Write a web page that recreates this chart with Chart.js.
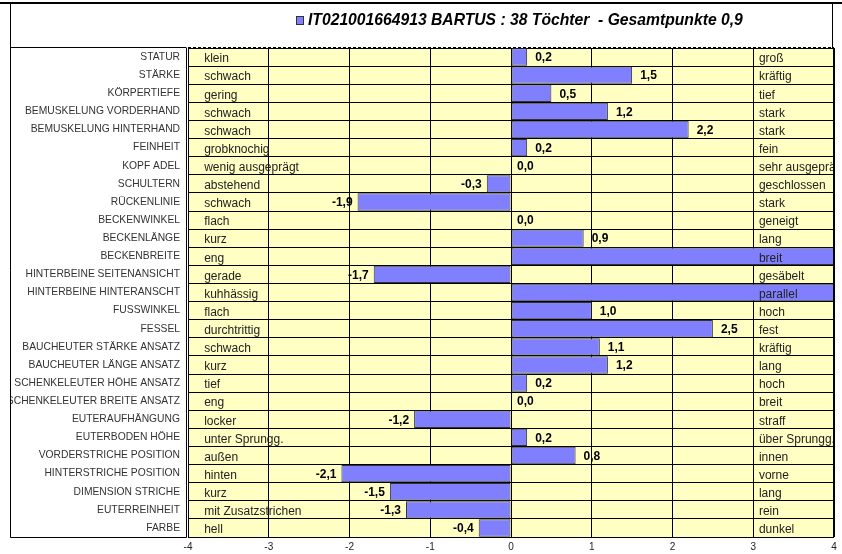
<!DOCTYPE html>
<html>
<head>
<meta charset="utf-8">
<script src="https://cdn.jsdelivr.net/npm/chart.js@4.4.1/dist/chart.umd.min.js"></script>
<style>
  html, body { margin: 0; padding: 0; background: #fff; }
  #wrap { width: 842px; height: 554px; }
</style>
</head>
<body>
<div id="wrap"><canvas id="chart" width="842" height="554"></canvas></div>
<script>
// traits (rows, top to bottom)
const traits = [
  "STATUR", "STÄRKE", "KÖRPERTIEFE", "BEMUSKELUNG VORDERHAND", "BEMUSKELUNG HINTERHAND",
  "FEINHEIT", "KOPF ADEL", "SCHULTERN", "RÜCKENLINIE", "BECKENWINKEL", "BECKENLÄNGE",
  "BECKENBREITE", "HINTERBEINE SEITENANSICHT", "HINTERBEINE HINTERANSCHT", "FUSSWINKEL",
  "FESSEL", "BAUCHEUTER STÄRKE ANSATZ", "BAUCHEUTER LÄNGE ANSATZ", "SCHENKELEUTER HÖHE ANSATZ",
  "SCHENKELEUTER BREITE ANSATZ", "EUTERAUFHÄNGUNG", "EUTERBODEN HÖHE", "VORDERSTRICHE POSITION",
  "HINTERSTRICHE POSITION", "DIMENSION STRICHE", "EUTERREINHEIT", "FARBE"
];

// low end / high end descriptions
const lowText = [
  "klein", "schwach", "gering", "schwach", "schwach", "grobknochig", "wenig ausgeprägt",
  "abstehend", "schwach", "flach", "kurz", "eng", "gerade", "kuhhässig", "flach",
  "durchtrittig", "schwach", "kurz", "tief", "eng", "locker", "unter Sprungg.", "außen",
  "hinten", "kurz", "mit Zusatzstrichen", "hell"
];
const highText = [
  "groß", "kräftig", "tief", "stark", "stark", "fein", "sehr ausgeprägt", "geschlossen",
  "stark", "geneigt", "lang", "breit", "gesäbelt", "parallel", "hoch", "fest", "kräftig",
  "lang", "hoch", "breit", "straff", "über Sprungg.", "innen", "vorne", "lang", "rein", "dunkel"
];

// breeding values; BECKENBREITE and HINTERBEINE HINTERANSCHT run past the axis end (clipped)
const values = [
  0.2, 1.5, 0.5, 1.2, 2.2, 0.2, 0.0, -0.3, -1.9, 0.0, 0.9,
  4.5, -1.7, 4.5, 1.0, 2.5, 1.1, 1.2, 0.2, 0.0, -1.2, 0.2, 0.8,
  -2.1, -1.5, -1.3, -0.4
];

const titleText = "IT021001664913 BARTUS : 38 Töchter  - Gesamtpunkte 0,9";
const xTicks = [-4, -3, -2, -1, 0, 1, 2, 3, 4];

const barColor = "#8080FF";
const FONT = "'Liberation Sans', Arial, sans-serif";

const decor = {
  id: "decor",
  beforeDraw(chart) {
    const { ctx, chartArea: a } = chart;
    ctx.save();
    ctx.fillStyle = "#fff";
    ctx.fillRect(0, 0, chart.width, chart.height);
    ctx.fillStyle = "#FFFFC4";
    ctx.fillRect(a.left, a.top, a.right - a.left, a.bottom - a.top);
    ctx.restore();
  },
  afterDatasetsDraw(chart) {
    const { ctx, chartArea: a } = chart;
    const xs = chart.scales.x, ys = chart.scales.y;
    ctx.save();
    ctx.beginPath();
    ctx.rect(a.left, a.top, a.right - a.left, a.bottom - a.top);
    ctx.clip();
    ctx.font = "12px " + FONT;
    ctx.fillStyle = "#222";
    ctx.textBaseline = "middle";
    traits.forEach((t, i) => {
      const y = ys.getPixelForValue(i) + 2;
      ctx.textAlign = "left";
      ctx.fillText(lowText[i], xs.getPixelForValue(-3.8), y);
      ctx.fillText(highText[i], xs.getPixelForValue(3.07), y);
    });
    ctx.font = "bold 12px " + FONT;
    ctx.fillStyle = "#000";
    values.forEach((v, i) => {
      if (v > 4 || v < -4) return;
      const y = ys.getPixelForValue(i) + 1;
      const lbl = v.toFixed(1).replace(".", ",");
      if (v < 0) {
        ctx.textAlign = "right";
        ctx.fillText(lbl, xs.getPixelForValue(v) - 5, y);
      } else {
        ctx.textAlign = "left";
        ctx.fillText(lbl, xs.getPixelForValue(v) + (v === 0 ? 6 : 8), y);
      }
    });
    ctx.restore();
  },
  afterDraw(chart) {
    const { ctx, chartArea: a } = chart;
    ctx.save();
    // top rule
    ctx.fillStyle = "#000";
    ctx.fillRect(0, 2, chart.width, 2);
    ctx.strokeStyle = "#000";
    ctx.lineWidth = 1;
    // title box and label box
    ctx.beginPath();
    ctx.moveTo(10.5, 4);
    ctx.lineTo(10.5, a.bottom + 0.5);
    ctx.lineTo(a.left - 1.5, a.bottom + 0.5);
    ctx.moveTo(a.right - 1.5, 4);
    ctx.lineTo(a.right - 1.5, a.top);
    ctx.moveTo(10.5, a.top - 0.5);
    ctx.lineTo(a.left - 1.5, a.top - 0.5);
    ctx.moveTo(a.left - 1.5, a.top);
    ctx.lineTo(a.left - 1.5, a.bottom + 0.5);
    ctx.stroke();
    ctx.setLineDash([3, 2]);
    ctx.beginPath();
    ctx.moveTo(a.left, a.top - 0.5);
    ctx.lineTo(a.right, a.top - 0.5);
    ctx.stroke();
    ctx.setLineDash([]);
    // right edge of plot
    ctx.beginPath();
    ctx.moveTo(a.right - 0.5, a.top);
    ctx.lineTo(a.right - 0.5, a.bottom);
    ctx.stroke();
    // legend-like title
    ctx.fillStyle = barColor;
    ctx.fillRect(296, 16, 8, 9);
    ctx.strokeStyle = "#333";
    ctx.strokeRect(296.5, 16.5, 7, 8);
    ctx.fillStyle = "#000";
    ctx.font = "italic bold 15.7px " + FONT;
    ctx.textAlign = "left";
    ctx.textBaseline = "middle";
    ctx.fillText(titleText, 308, 21);
    ctx.restore();
  }
};

new Chart(document.getElementById("chart").getContext("2d"), {
  type: "bar",
  data: {
    labels: traits,
    datasets: [{
      data: values,
      backgroundColor: barColor,
      borderColor: "#333",
      borderWidth: 1,
      borderSkipped: false,
      barPercentage: 0.96,
      categoryPercentage: 1.0,
      clip: 0
    }]
  },
  options: {
    indexAxis: "y",
    responsive: false,
    animation: false,
    layout: { padding: { top: 48, left: 10, right: 8, bottom: 0 } },
    plugins: {
      legend: { display: false },
      tooltip: { enabled: false }
    },
    scales: {
      x: {
        min: -4,
        max: 4,
        afterFit: (s) => { s.height = 17; },
        afterBuildTicks: (s) => { s.ticks = xTicks.map(v => ({ value: v })); },
        ticks: {
          font: { size: 10, family: FONT },
          color: "#222",
          padding: 4,
          callback: (v) => String(v)
        },
        grid: { color: "#000", lineWidth: 1, drawTicks: false },
        border: { display: false }
      },
      y: {
        afterFit: (s) => { s.width = 178; },
        ticks: {
          autoSkip: false,
          font: { size: 10.3, family: FONT },
          color: "#333",
          padding: 8
        },
        grid: { color: "#000", lineWidth: 1, drawTicks: false, offset: true },
        border: { display: false }
      }
    }
  },
  plugins: [decor]
});
</script>
</body>
</html>
